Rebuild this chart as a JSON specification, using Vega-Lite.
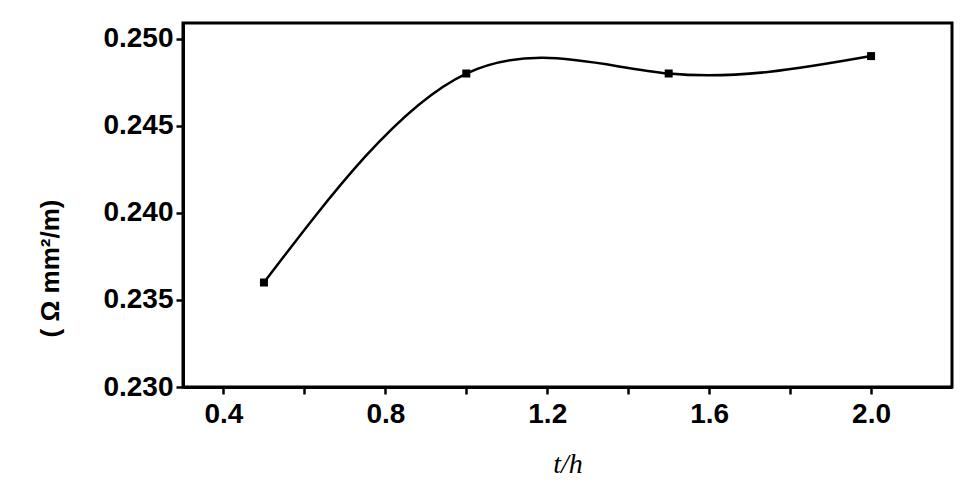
{
  "$schema": "https://vega.github.io/schema/vega-lite/v6.json",
  "autosize": "none",
  "padding": {"left": 183, "top": 23, "right": 24, "bottom": 115},
  "width": 769,
  "height": 364,
  "background": "white",
  "config": {
    "view": {"stroke": "black", "strokeWidth": 3},
    "axis": {
      "domainColor": "black", "domainWidth": 3, "tickColor": "black", "tickWidth": 2.5, "tickSize": 7,
      "grid": false, "labelFont": "Liberation Sans", "labelFontWeight": "bold", "labelFontSize": 28, "labelColor": "black"
    }
  },
  "data": {"values": [
    {"t": 0.5, "r": 0.236},
    {"t": 1.0, "r": 0.248},
    {"t": 1.5, "r": 0.248},
    {"t": 2.0, "r": 0.249}
  ]},
  "layer": [
    {
      "mark": {"type": "line", "interpolate": "natural", "color": "black", "strokeWidth": 2.5},
      "encoding": {
        "x": {"field": "t", "type": "quantitative", "scale": {"domain": [0.3, 2.2], "nice": false},
          "axis": {"values": [0.4, 0.6, 0.8, 1.0, 1.2, 1.4, 1.6, 1.8, 2.0],
            "labelExpr": "round(datum.value*10) % 4 == 0 ? format(datum.value, '.1f') : ''",
            "labelPadding": 6, "title": "t/h", "titleFont": "Liberation Serif", "titleFontSize": 28,
            "titleFontWeight": "normal", "titleFontStyle": "italic", "titlePadding": 22, "titleColor": "black"}},
        "y": {"field": "r", "type": "quantitative", "scale": {"domain": [0.23, 0.2509], "nice": false, "zero": false},
          "axis": {"values": [0.23, 0.235, 0.24, 0.245, 0.25], "format": ".3f", "labelPadding": 3,
            "title": "( Ω mm²/m)", "titleFont": "Liberation Sans", "titleFontSize": 26, "titleFontWeight": "bold",
            "titleX": -133, "titleY": 245, "titleBaseline": "middle", "titleAngle": 270, "titleColor": "black"}}
      }
    },
    {
      "mark": {"type": "square", "color": "black", "size": 64, "opacity": 1, "filled": true},
      "encoding": {
        "x": {"field": "t", "type": "quantitative"},
        "y": {"field": "r", "type": "quantitative"}
      }
    }
  ]
}
